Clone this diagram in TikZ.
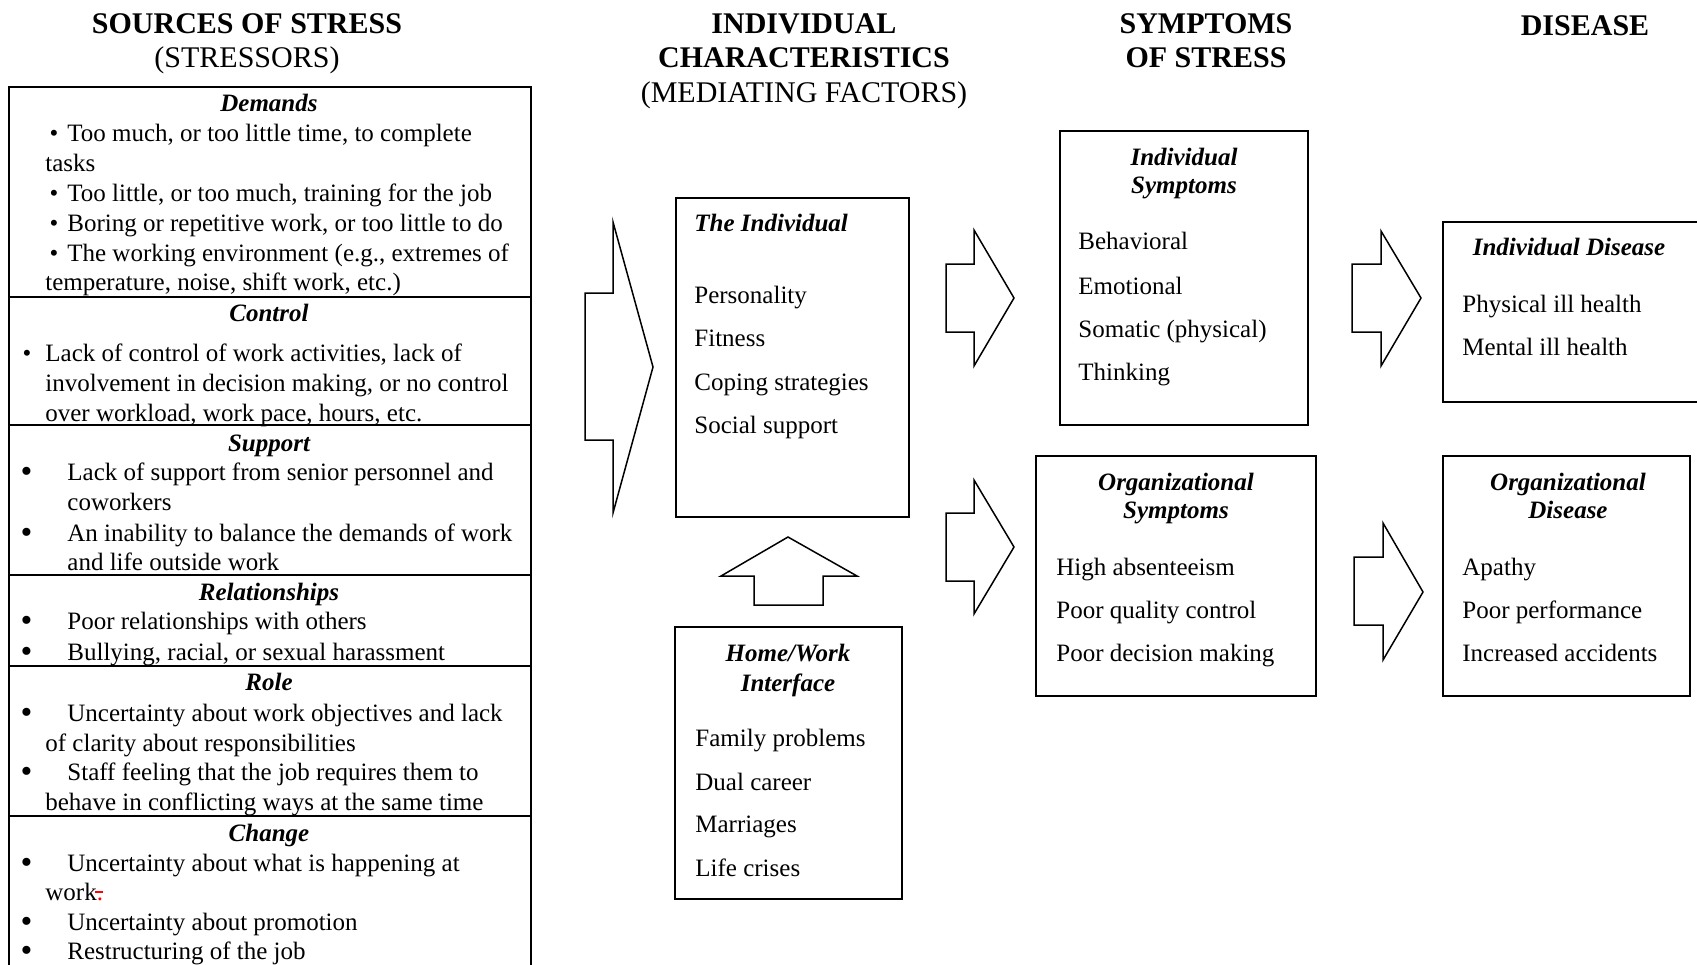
\documentclass[tikz,border=0pt]{standalone}
\usepackage{fontspec}
\usepackage{graphicx}
\setmainfont{Liberation Serif}
\newcommand\bodyfnt{\fontsize{12.5pt}{15pt}\selectfont}
\newcommand\headfnt{\fontsize{15pt}{18pt}\selectfont}
\newcommand\bigbul{\llap{\raisebox{-0.1em}{\scalebox{1.35}{\textbullet}}\hspace{17.5pt}}}
\newcommand\smbul[1]{\llap{\textbullet\hspace{#1}}}
\begin{document}
\begin{tikzpicture}[x=0.5pt,y=-0.5pt,
  txt/.style={anchor=base west,inner sep=0pt,font=\bodyfnt},
  ttl/.style={anchor=base,inner sep=0pt,font=\bodyfnt\bfseries\itshape},
  lttl/.style={anchor=base west,inner sep=0pt,font=\bodyfnt\bfseries\itshape},
  hdr/.style={anchor=base,inner sep=0pt,font=\headfnt\bfseries},
  hdrn/.style={anchor=base,inner sep=0pt,font=\headfnt},
  box/.style={draw,line width=0.6pt,anchor=north west,inner sep=0pt,outer sep=0pt},
  blk/.style={draw,line width=0.75pt,line join=miter,fill=white},
  srcline/.style={line width=1pt}
]
\useasboundingbox (0,0) rectangle (1697,964);

% ---------- headers ----------
\node[hdr]  (h1a) at (247,33) {SOURCES OF STRESS};
\node[hdrn] (h1b) at (247,67) {(STRESSORS)};
\node[hdr]  (h2a) at (804,33) {INDIVIDUAL};
\node[hdr]  (h2b) at (804,67) {CHARACTERISTICS};
\node[hdrn] (h2c) at (804,102) {(MEDIATING FACTORS)};
\node[hdr]  (h3a) at (1206,33) {SYMPTOMS};
\node[hdr]  (h3b) at (1206,67) {OF STRESS};
\node[hdr]  (h4a) at (1585,35) {DISEASE};

% ---------- left box (sources) ----------
\draw[srcline] (8.6,990) -- (8.6,87) -- (530.5,87) -- (530.5,990);
\draw[srcline] (8.6,296.5) -- (530.5,296.5);
\draw[srcline] (8.6,424.5) -- (530.5,424.5);
\draw[srcline] (8.6,575) -- (530.5,575);
\draw[srcline] (8.6,666) -- (530.5,666);
\draw[srcline] (8.6,816) -- (530.5,816);

% Demands
\node[ttl] (tdem) at (269,111) {Demands};
\node[txt] (d1) at (67,141) {\smbul{4.5pt}Too much, or too little time, to complete};
\node[txt] (d1b) at (45,171) {tasks};
\node[txt] (d2) at (67,201) {\smbul{4.5pt}Too little, or too much, training for the job};
\node[txt] (d3) at (67,231) {\smbul{4.5pt}Boring or repetitive work, or too little to do};
\node[txt] (d4) at (67,261) {\smbul{4.5pt}The working environment (e.g., extremes of};
\node[txt] (d4b) at (45,290) {temperature, noise, shift work, etc.)};
% Control
\node[ttl] (tcon) at (269,321) {Control};
\node[txt] (c1) at (45,361) {\smbul{7pt}Lack of control of work activities, lack of};
\node[txt] (c1b) at (45,391) {involvement in decision making, or no control};
\node[txt] (c1c) at (45,421) {over workload, work pace, hours, etc.};
% Support
\node[ttl] (tsup) at (269,451) {Support};
\node[txt] (s1) at (67,480) {\bigbul Lack of support from senior personnel and};
\node[txt] (s1b) at (67,510) {coworkers};
\node[txt] (s2) at (67,541) {\bigbul An inability to balance the demands of work};
\node[txt] (s2b) at (67,570) {and life outside work};
% Relationships
\node[ttl] (trel) at (269,600) {Relationships};
\node[txt] (r1) at (67,629) {\bigbul Poor relationships with others};
\node[txt] (r2) at (67,660) {\bigbul Bullying, racial, or sexual harassment};
% Role
\node[ttl] (trol) at (269,690) {Role};
\node[txt] (o1) at (67,721) {\bigbul Uncertainty about work objectives and lack};
\node[txt] (o1b) at (45,751) {of clarity about responsibilities};
\node[txt] (o2) at (67,780) {\bigbul Staff feeling that the job requires them to};
\node[txt] (o2b) at (45,810) {behave in conflicting ways at the same time};
% Change
\node[ttl] (tchg) at (269,841) {Change};
\node[txt] (g1) at (67,871) {\bigbul Uncertainty about what is happening at};
\node[txt] (g1b) at (45,900) {work{\color{red}.\llap{\rule[0.3em]{0.32em}{0.07em}}}};
\node[txt] (g2) at (67,930) {\bigbul Uncertainty about promotion};
\node[txt] (g3) at (67,959) {\bigbul Restructuring of the job};

% ---------- big arrow ----------
\draw[blk] (585,293) -- (613,293) -- (613,222) -- (653,367) -- (613,513) -- (613,440) -- (585,440) -- cycle;

% ---------- The Individual ----------
\node[box,minimum width=116.5pt,minimum height=159.5pt] (indiv) at (676,198) {};
\node[lttl] (tind) at (694,231) {The Individual};
\node[txt] (i1) at (694,303) {Personality};
\node[txt] (i2) at (694,346) {Fitness};
\node[txt] (i3) at (694,390) {Coping strategies};
\node[txt] (i4) at (694,433) {Social support};

% ---------- up arrow ----------
\draw[blk] (754,605) -- (754,576) -- (721,576) -- (788,537) -- (857,576) -- (823,576) -- (823,605) -- cycle;

% ---------- Home/Work ----------
\node[box,line width=1.3pt,minimum width=113.5pt,minimum height=136pt] (home) at (675,627) {};
\node[ttl] (thw1) at (788,661) {Home/Work};
\node[ttl] (thw2) at (788,691) {Interface};
\node[txt] (w1) at (695,746) {Family problems};
\node[txt] (w2) at (695,790) {Dual career};
\node[txt] (w3) at (695,832) {Marriages};
\node[txt] (w4) at (695,876) {Life crises};

% ---------- arrows to symptoms ----------
\draw[blk] (946,264) -- (974,264) -- (974,230) -- (1014,298) -- (974,366) -- (974,332) -- (946,332) -- cycle;
\draw[blk] (946,513) -- (974,513) -- (974,480) -- (1014,547) -- (974,614) -- (974,581) -- (946,581) -- cycle;

% ---------- Individual Symptoms ----------
\node[box,minimum width=124pt,minimum height=147pt] (isym) at (1060,131) {};
\node[ttl] (tis1) at (1184,165) {Individual};
\node[ttl] (tis2) at (1184,193) {Symptoms};
\node[txt] (is1) at (1078,249) {Behavioral};
\node[txt] (is2) at (1078,294) {Emotional};
\node[txt] (is3) at (1078,337) {Somatic (physical)};
\node[txt] (is4) at (1078,380) {Thinking};

% ---------- Organizational Symptoms ----------
\node[box,minimum width=140pt,minimum height=120pt] (osym) at (1036,456) {};
\node[ttl] (tos1) at (1176,490) {Organizational};
\node[ttl] (tos2) at (1176,518) {Symptoms};
\node[txt] (os1) at (1056,575) {High absenteeism};
\node[txt] (os2) at (1056,618) {Poor quality control};
\node[txt] (os3) at (1056,661) {Poor decision making};

% ---------- arrows to disease ----------
\draw[blk] (1352,264) -- (1381,264) -- (1381,231) -- (1421,298) -- (1381,366) -- (1381,332) -- (1352,332) -- cycle;
\draw[blk] (1354,557) -- (1383,557) -- (1383,523) -- (1423,592) -- (1383,660) -- (1383,625) -- (1354,625) -- cycle;

% ---------- Individual Disease ----------
\node[box,minimum width=135pt,minimum height=90pt] (idis) at (1443,222) {};
\node[ttl] (tid) at (1569,255) {Individual Disease};
\node[txt] (id1) at (1462,312) {Physical ill health};
\node[txt] (id2) at (1462,355) {Mental ill health};

% ---------- Organizational Disease ----------
\node[box,minimum width=123.5pt,minimum height=120pt] (odis) at (1443,456) {};
\node[ttl] (tod1) at (1568,490) {Organizational};
\node[ttl] (tod2) at (1568,518) {Disease};
\node[txt] (od1) at (1462,575) {Apathy};
\node[txt] (od2) at (1462,618) {Poor performance};
\node[txt] (od3) at (1462,661) {Increased accidents};
\end{tikzpicture}
\end{document}
